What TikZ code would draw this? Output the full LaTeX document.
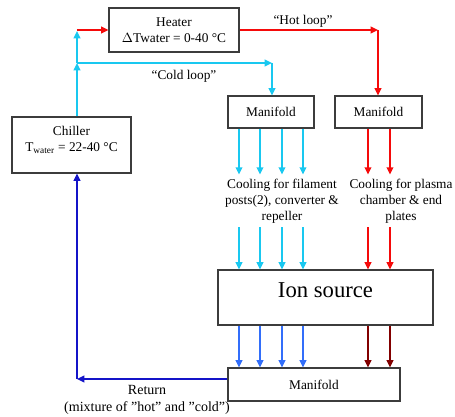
\documentclass[tikz,border=0pt]{standalone}
\usepackage{fontspec}
\setmainfont{Liberation Serif}
\usetikzlibrary{arrows.meta, positioning, calc}
\definecolor{coldblue}{RGB}{25, 200, 240}
\definecolor{midblue}{RGB}{50, 110, 250}
\definecolor{retblue}{RGB}{20, 20, 200}
\definecolor{hotred}{RGB}{245, 10, 10}
\definecolor{darkred}{RGB}{130, 0, 0}
\definecolor{boxline}{RGB}{60, 60, 60}

\begin{document}
\begin{tikzpicture}[
          x=0.75pt, y=-0.75pt,
          box/.style={draw=boxline, fill=white, thick,
                      align=center, inner sep=1pt,
                      font=\fontsize{10}{12}\selectfont},
          flow/.style={line width=1.3pt,
                       -{Triangle[length=5.5pt, width=5pt]}},
          lab/.style={font=\fontsize{10}{12}\selectfont, align=center},
      ]
      \useasboundingbox (0,0) rectangle (455,417);

      % boxes
      \node[box, minimum width=97.5pt, minimum height=33pt] (heater)
          at (174, 30) {Heater\\$\Delta$Twater = 0-40 °C};
      \node[box, minimum width=89.25pt, minimum height=42pt] (chiller)
          at (71.5, 145)
          {Chiller\\T\textsubscript{water} = 22-40 °C\\[-3pt]\mbox{}};
      \node[box, minimum width=64.5pt, minimum height=24pt] (manC)
          at (271, 112) {Manifold};
      \node[box, minimum width=65.25pt, minimum height=24pt] (manH)
          at (378.5, 112) {Manifold};
      \node[box, minimum width=161.25pt, minimum height=41.25pt,
            font=\fontsize{17}{20}\selectfont] (ion)
          at (325.5, 297.5) {Ion source\\[-9pt]\mbox{}};
      \node[box, minimum width=129pt, minimum height=24.75pt] (manR)
          at (314, 384.5) {Manifold};

      % cooling texts
      \node[lab, inner sep=3pt] (coolC) at (282, 201)
          {Cooling for filament\\posts(2), converter \&\\repeller};
      \node[lab, inner sep=3pt] (coolH) at (401, 201)
          {Cooling for plasma\\chamber \& end\\plates};

      % corners
      \coordinate (split) at (77, 63);
      \coordinate (top) at (77, 30);
      \coordinate (cc) at (272, 63);
      \coordinate (hc) at (378, 30);
      \coordinate (rc) at (77, 379);

      % supply from chiller
      \draw[flow, coldblue] (chiller.north -| split) -- (split);
      \draw[flow, coldblue] (split) -- ([yshift=-0.75pt]top);
      \draw[flow, hotred] (top) -- (heater.west);

      % cold loop
      \draw[flow, coldblue] (split) -- (cc);
      \draw[flow, coldblue] (cc) -- (manC.north -| cc);
      \node[lab] (coldlab) at (184, 76) {“Cold loop”};

      % hot loop
      \draw[flow, hotred] (heater.east) -- (hc);
      \draw[flow, hotred] (hc) -- (manH.north -| hc);
      \node[lab] (hotlab) at (303, 21) {“Hot loop”};

      % branches through the ion source
      \foreach \x in {239, 260, 282, 303} {
          \draw[flow, coldblue] (\x,0 |- manC.south) -- (\x,0 |- coolC.north);
          \draw[flow, coldblue] (\x,0 |- coolC.south) -- (\x,0 |- ion.north);
          \draw[flow, midblue] (\x,0 |- ion.south) -- (\x,0 |- manR.north);
      }
      \foreach \x in {368, 390} {
          \draw[flow, hotred] (\x,0 |- manH.south) -- (\x,0 |- coolH.north);
          \draw[flow, hotred] (\x,0 |- coolH.south) -- (\x,0 |- ion.north);
          \draw[flow, darkred] (\x,0 |- ion.south) -- (\x,0 |- manR.north);
      }

      % return line
      \draw[flow, retblue] (manR.west |- rc) -- (rc);
      \draw[flow, retblue] (rc) -- (chiller.south -| rc);
      \node[lab, font=\fontsize{10.5}{12.5}\selectfont] (retlab) at (147, 400)
          {Return\\(mixture of ”hot” and ”cold”)};
\end{tikzpicture}
\end{document}
